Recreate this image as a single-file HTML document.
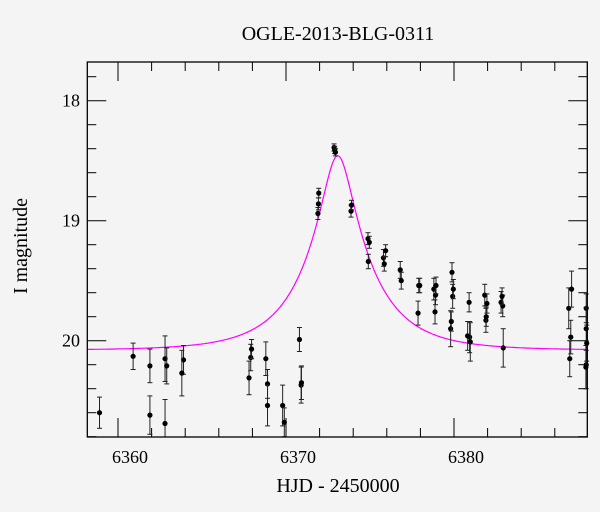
<!DOCTYPE html>
<html><head><meta charset="utf-8"><style>
body{margin:0;background:#f4f4f4}
svg{display:block}
text{font-family:"Liberation Serif",serif;fill:#000}
</style></head><body>
<svg id="chart" width="600" height="512" viewBox="0 0 600 512">
<rect width="600" height="512" fill="#f4f4f4"/>
<text x="338" y="40" font-size="20" text-anchor="middle">OGLE-2013-BLG-0311</text>
<text x="338" y="492" font-size="20" text-anchor="middle">HJD - 2450000</text>
<text x="27" y="246" font-size="20" text-anchor="middle" transform="rotate(-90 27 246)">I magnitude</text>
<g id="axes"></g>
<g id="model"></g>
<g id="points"></g>
<rect x="87.3" y="62" width="500" height="375" fill="none" stroke="#000" stroke-width="1.3"/>
</svg>
<script>
const days=[6358.9,6360.9,6361.9,6361.9,6362.8,6362.9,6362.8,6363.9,6363.8,6367.8,6367.9,6367.95,6368.8,6368.9,6368.9,6369.8,6369.9,6370.8,6370.9,6370.92,6371.9,6371.93,6371.95,6372.86,6372.9,6372.94,6373.87,6373.9,6374.9,6374.88,6374.96,6375.8,6375.85,6375.93,6376.8,6376.86,6377.86,6377.9,6377.96,6378.8,6378.87,6378.9,6378.93,6379.8,6379.84,6379.88,6379.92,6379.96,6380.81,6380.9,6380.93,6380.97,6381.83,6381.9,6381.92,6381.96,6382.8,6382.9,6382.86,6382.93,6386.83,6386.89,6386.95,6387.0,6387.87,6387.87,6387.87,6387.85,6387.9];
const mags=[20.6,20.13,20.21,20.62,20.15,20.21,20.69,20.16,20.27,20.31,20.14,20.07,20.15,20.36,20.54,20.54,20.68,19.99,20.37,20.35,18.94,18.86,18.77,18.39,18.41,18.43,18.92,18.87,19.34,19.15,19.18,19.31,19.36,19.25,19.41,19.5,19.77,19.54,19.54,19.57,19.76,19.62,19.54,19.9,19.84,19.43,19.63,19.57,19.96,19.68,19.97,20.01,19.62,19.83,19.8,19.69,19.68,19.71,19.63,20.06,19.73,20.15,19.97,19.57,19.73,19.9,20.2,20.22,20.02];
const errs=[0.13,0.11,0.14,0.16,0.19,0.15,0.2,0.12,0.19,0.14,0.11,0.08,0.14,0.12,0.17,0.17,0.12,0.1,0.15,0.14,0.05,0.05,0.04,0.03,0.03,0.03,0.05,0.04,0.06,0.05,0.05,0.07,0.06,0.05,0.07,0.07,0.1,0.06,0.06,0.09,0.1,0.08,0.07,0.15,0.08,0.08,0.1,0.08,0.12,0.08,0.13,0.16,0.09,0.1,0.08,0.08,0.09,0.09,0.07,0.16,0.17,0.15,0.14,0.15,0.12,0.18,0.2,0.18,0.15];
const xTicks=[6360,6370,6380];
const yTicks=[18,19,20];
const modelT0=6373.08, modelU0=0.229, modelTE=3.8, modelBase=20.08;

const X0=87.3,X1=587.3,Y0=62,Y1=437;
const xs=d=>118+(d-6360)*16.8;
const ys=m=>100.7+(m-18)*120;
const NS='http://www.w3.org/2000/svg';
function mk(tag,attrs,parent){const e=document.createElementNS(NS,tag);for(const k in attrs)e.setAttribute(k,attrs[k]);parent.appendChild(e);return e;}
const axes=document.getElementById('axes');
for(let d=6358;d<=6388;d+=2){const x=xs(d);if(x<X0||x>X1)continue;const major=d%10===0;const L=major?19:9;
 const t1=mk('line',{x1:x,x2:x,y1:Y1,y2:Y1-L,stroke:'#000','stroke-width':1},axes);
 
 
 const t2=mk('line',{x1:x,x2:x,y1:Y0,y2:Y0+L,stroke:'#000','stroke-width':1},axes);
 
 }
xTicks.forEach(d=>{const t=mk('text',{x:xs(d)+12,y:463,'font-size':18,'text-anchor':'middle'},axes);t.textContent=d;
 
 });
for(let i=0;i<=16;i++){const m=17.8+i*0.2;const y=ys(m);if(y<Y0||y>Y1)continue;const major=Math.abs(m-Math.round(m))<0.01;const L=major?19:9;
 const t1=mk('line',{x1:X0,x2:X0+L,y1:y,y2:y,stroke:'#000','stroke-width':1},axes);
 
 
 const t2=mk('line',{x1:X1,x2:X1-L,y1:y,y2:y,stroke:'#000','stroke-width':1},axes);
 
 }
yTicks.forEach(m=>{const t=mk('text',{x:80,y:ys(m)+6,'font-size':18,'text-anchor':'end'},axes);t.textContent=m;
 
 });
function amp(u){return (u*u+2)/(u*Math.sqrt(u*u+4));}
let pts=[];
for(let x=X0;x<=X1;x+=1){const d=6360+(x-118)/16.8;const u=Math.sqrt(modelU0*modelU0+Math.pow((d-modelT0)/modelTE,2));
 const m=modelBase-2.5*Math.log10(amp(u));pts.push(x.toFixed(1)+','+ys(m).toFixed(1));}
const ml=mk('polyline',{points:pts.join(' '),fill:'none',stroke:'#ff00ff','stroke-width':1.2},document.getElementById('model'));


const pg=document.getElementById('points');
days.forEach((d,i)=>{const x=xs(d),y=ys(mags[i]),e=errs[i]*120;
 const ya=Math.max(Y0,y-e),yb=Math.min(Y1,y+e);
 const g=mk('g',{},pg);
 
 
 mk('line',{x1:x,x2:x,y1:ya,y2:yb,stroke:'#222','stroke-width':1},g);
 if(y-e>Y0)mk('line',{x1:x-2.5,x2:x+2.5,y1:y-e,y2:y-e,stroke:'#222','stroke-width':1},g);
 if(y+e<Y1)mk('line',{x1:x-2.5,x2:x+2.5,y1:y+e,y2:y+e,stroke:'#222','stroke-width':1},g);
 if(x<X1+1)mk('circle',{cx:x,cy:y,r:2.6,fill:'#000'},g);
});
</script>
</body></html>
